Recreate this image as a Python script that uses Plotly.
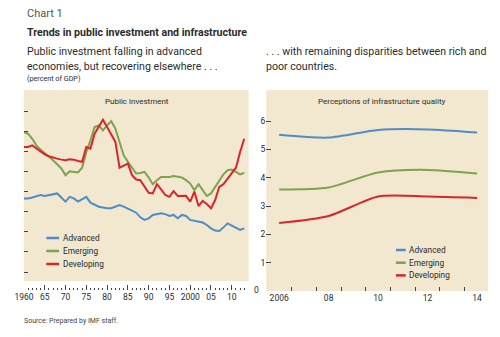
import plotly.graph_objects as go

# ---------------- data ----------------
years_left = list(range(1960, 2014))
advanced_pi = [4.66, 4.66, 4.71, 4.78, 4.83, 4.78, 4.83, 4.89, 4.91, 4.71,
               4.50, 4.74, 4.66, 4.50, 4.61, 4.74, 4.45, 4.33, 4.25, 4.21,
               4.17, 4.17, 4.25, 4.33, 4.25, 4.17, 4.05, 3.95, 3.72, 3.59,
               3.67, 3.84, 3.88, 3.92, 3.88, 3.79, 3.84, 3.67, 3.84, 3.79,
               3.59, 3.55, 3.50, 3.46, 3.34, 3.17, 3.06, 3.04, 3.22, 3.42,
               3.31, 3.22, 3.09, 3.17]
emerging_pi = [7.96, 7.88, 7.63, 7.30, 7.09, 6.92, 6.72, 6.56, 6.36, 6.15,
               5.82, 6.01, 5.98, 5.95, 6.19, 6.97, 7.55, 8.21, 8.29, 8.04,
               8.29, 8.50, 8.13, 7.47, 6.81, 6.48, 6.19, 5.90, 5.93, 5.98,
               5.70, 5.37, 5.57, 5.73, 5.73, 5.73, 5.77, 5.73, 5.70, 5.57,
               5.40, 5.07, 5.37, 5.07, 4.78, 4.91, 5.24, 5.57, 5.86, 6.06,
               6.10, 5.98, 5.86, 5.93]
developing_pi = [7.22, 7.22, 7.30, 7.14, 6.97, 6.85, 6.76, 6.69, 6.64, 6.59,
                 6.56, 6.61, 6.59, 6.52, 6.48, 7.22, 7.14, 7.88, 8.24, 8.57,
                 8.21, 7.80, 7.47, 6.19, 6.31, 6.39, 5.82, 5.60, 5.57, 5.27,
                 4.94, 4.91, 5.37, 5.11, 4.83, 4.74, 5.02, 4.78, 4.78, 4.79,
                 4.50, 5.00, 4.28, 4.54, 4.38, 4.17, 4.58, 5.24, 5.37, 5.65,
                 5.90, 6.19, 6.97, 7.63]

years_right = [2006, 2008, 2010, 2012, 2014]
advanced_iq = [5.52, 5.42, 5.69, 5.71, 5.60]
emerging_iq = [3.59, 3.66, 4.19, 4.28, 4.15]
developing_iq = [2.40, 2.65, 3.34, 3.34, 3.29]

series_names = ["Advanced", "Emerging", "Developing"]
left_ticks = [1960, 1965, 1970, 1975, 1980, 1985, 1990, 1995, 2000, 2005, 2010]
left_tick_text = ["1960", "65", "70", "75", "80", "85", "90", "95", "2000", "05", "10"]
right_ticks = [2006, 2008, 2010, 2012, 2014]
right_tick_text = ["2006", "08", "10", "12", "14"]

# ---------------- style ----------------
W, H = 500, 337
COLORS = ["#4f8dc6", "#7ea24f", "#d8262b"]
TAN = "#f1e8cf"
FONT = "Roboto, Liberation Sans, Arial, sans-serif"
TXT = "#2b2b2b"


def px(x):
    return x / W


def py(y):
    return 1 - y / H


fig = go.Figure()

for name, vals, c in zip(series_names, [advanced_pi, emerging_pi, developing_pi], COLORS):
    fig.add_trace(go.Scatter(x=years_left, y=vals, mode="lines", name=name,
                             line=dict(color=c, width=2), xaxis="x", yaxis="y",
                             showlegend=False))

for name, vals, c in zip(series_names, [advanced_iq, emerging_iq, developing_iq], COLORS):
    fig.add_trace(go.Scatter(x=years_right, y=vals, mode="lines", name=name,
                             line=dict(color=c, width=2, shape="spline", smoothing=0.7),
                             xaxis="x2", yaxis="y2", showlegend=False))

shapes = [
    # tan panels
    dict(type="rect", xref="paper", yref="paper", x0=px(15), x1=px(244), y0=py(281), y1=py(90),
         fillcolor=TAN, line=dict(width=0), layer="below"),
    dict(type="rect", xref="paper", yref="paper", x0=px(262), x1=px(488), y0=py(291), y1=py(90),
         fillcolor=TAN, line=dict(width=0), layer="below"),
]

annotations = [
    dict(text="Chart 1", x=px(16), y=py(13), font=dict(size=11, color="#555")),
    dict(text="<b>Trends in public investment and infrastructure</b>", x=px(16), y=py(33),
         font=dict(size=10.6, color=TXT)),
    dict(text="Public investment falling in advanced", x=px(16), y=py(51), font=dict(size=10.6, color=TXT)),
    dict(text="economies, but recovering elsewhere . . .", x=px(16), y=py(66), font=dict(size=10.6, color=TXT)),
    dict(text="(percent of GDP)", x=px(16), y=py(78), font=dict(size=7.2, color=TXT)),
    dict(text=". . . with remaining disparities between rich and", x=px(260), y=py(51),
         font=dict(size=10.6, color=TXT)),
    dict(text="poor countries.", x=px(260), y=py(66), font=dict(size=10.6, color=TXT)),
    dict(text="Source: Prepared by IMF staff.", x=px(13), y=py(321), font=dict(size=7, color="#444")),
    dict(text="Public investment", x=px(130), y=py(101), xanchor="center", font=dict(size=8, color=TXT)),
    dict(text="Perceptions of infrastructure quality", x=px(380), y=py(101), xanchor="center",
         font=dict(size=8, color=TXT)),
    dict(text="0", x=px(257), y=py(290), xanchor="right", font=dict(size=8.5, color=TXT)),
]
for a in annotations:
    a.setdefault("xanchor", "left")
    a.update(xref="paper", yref="paper", yanchor="middle", showarrow=False)
    a["font"]["family"] = FONT

# legends drawn as line samples and labels
for i, (name, c) in enumerate(zip(series_names, COLORS)):
    for (lx0, lx1, ly) in [(38, 51, 238 + 13 * i), (394, 404, 250 + 12.7 * i)]:
        shapes.append(dict(type="line", xref="paper", yref="paper", x0=px(lx0), x1=px(lx1),
                           y0=py(ly), y1=py(ly), line=dict(color=c, width=2.5)))
        annotations.append(dict(text=name, x=px(lx1 + 1.5), y=py(ly), xref="paper", yref="paper",
                                xanchor="left", yanchor="middle", showarrow=False,
                                font=dict(family=FONT, size=8.3, color=TXT)))

fig.update_layout(
    width=W, height=H, margin=dict(l=0, r=0, t=0, b=0),
    paper_bgcolor="white", plot_bgcolor="rgba(0,0,0,0)",
    showlegend=False,
    font=dict(family=FONT, color=TXT),
    shapes=shapes, annotations=annotations,
    xaxis=dict(domain=[px(15), px(244)], range=[1959.95, 2014.05],
               tickvals=left_ticks, ticktext=left_tick_text,
               ticks="inside", ticklen=5, tickwidth=1, tickcolor="#444",
               minor=dict(dtick=1, tick0=1960, ticks="inside", ticklen=2.5, tickwidth=1, tickcolor="#444"),
               showgrid=False, zeroline=False, showline=False,
               tickfont=dict(size=8.5, color=TXT), anchor="y"),
    yaxis=dict(domain=[py(290), py(90)], range=[1 - 18 / 20.1, 1 + 182 / 20.1],
               tickvals=[1, 2, 3, 4, 5, 6, 7, 8, 9], showticklabels=False,
               ticks="inside", ticklen=4, tickwidth=1, tickcolor="#444",
               showgrid=False, zeroline=False, showline=False, anchor="x"),
    xaxis2=dict(domain=[px(262), px(488)], range=[2005.48, 2014.45],
                tickvals=right_ticks, ticktext=right_tick_text,
                ticks="inside", ticklen=0, tickcolor="rgba(0,0,0,0)",
                minor=dict(dtick=1, tick0=2005.5, ticks="inside", ticklen=4, tickwidth=1, tickcolor="#444"),
                showgrid=False, zeroline=False, showline=False,
                tickfont=dict(size=8.5, color=TXT), anchor="y2"),
    yaxis2=dict(domain=[py(291), py(90)], range=[0, 201 / 28.3],
                tickvals=[1, 2, 3, 4, 5, 6], ticks="inside", ticklen=5, tickwidth=1, tickcolor="#444",
                showgrid=False, zeroline=False, showline=False,
                tickfont=dict(size=8.5, color=TXT), anchor="x2"),
)

fig.write_html("out.html")
